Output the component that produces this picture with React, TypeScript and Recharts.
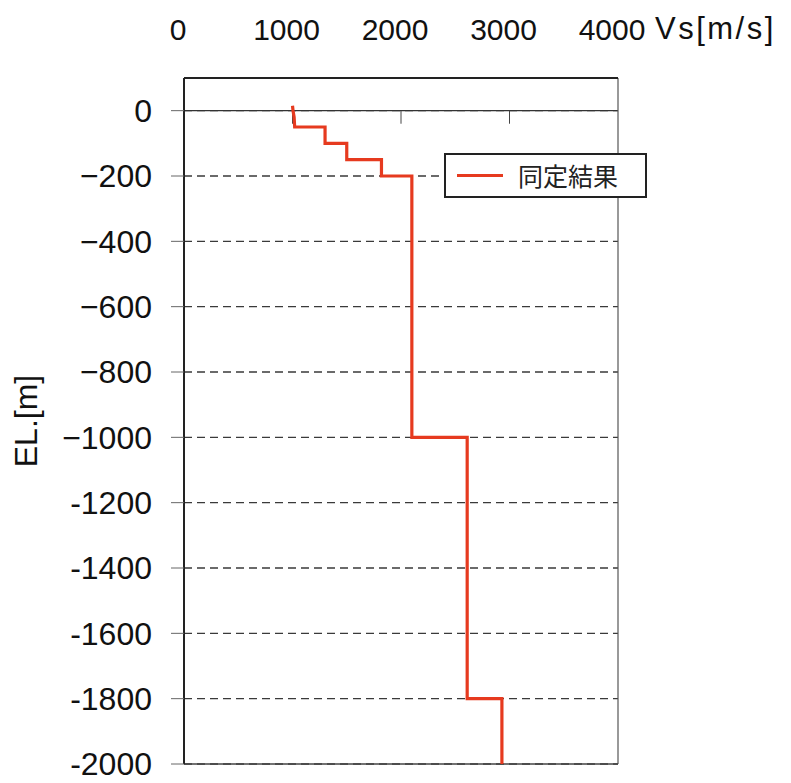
import React from 'react';
import {
  LineChart, Line, XAxis, YAxis, CartesianGrid, ReferenceLine, Legend,
} from 'recharts';

// identified Vs profile, listed as step corners (EL in m, Vs in m/s)
const elevations = [15, 0, -20, -50, -50, -100, -100, -150, -150, -200, -200, -1000, -1000, -1800, -1800, -2000];
const velocities = [1000, 1005, 1015, 1020, 1300, 1300, 1500, 1500, 1820, 1820, 2100, 2100, 2610, 2610, 2930, 2930];

const xTicks = [0, 1000, 2000, 3000, 4000];
const yTicks = [0, -200, -400, -600, -800, -1000, -1200, -1400, -1600, -1800, -2000];
const zeroLineTicks = [1000, 2000, 3000];

const seriesName = '同定結果';
const lineColor = '#e63a1f';
const font = "'Liberation Sans', Arial, sans-serif";

const data = elevations.map((el, i) => ({ el, vs: velocities[i] }));

// the labels down to -1000 use a real minus sign, below that a hyphen
const formatEL = (v: number) => {
  if (v === 0) return '0';
  return v >= -1000 ? `\u2212${Math.abs(v)}` : `-${Math.abs(v)}`;
};

const LegendBox = () => (
  <div
    style={{
      border: '2px solid #222',
      background: '#fff',
      width: 199,
      height: 41,
      display: 'flex',
      alignItems: 'center',
    }}
  >
    <span style={{ display: 'inline-block', width: 46, borderTop: `3px solid ${lineColor}`, marginLeft: 11, marginRight: 15 }} />
    <span style={{ fontFamily: "'Noto Sans CJK JP', sans-serif", fontSize: 25, color: '#222', lineHeight: 1 }}>
      {seriesName}
    </span>
  </div>
);

const ElLabel = (props: any) => {
  const { viewBox } = props;
  const cy = viewBox.y + viewBox.height / 2;
  return (
    <text
      x={26}
      y={cy}
      transform={`rotate(-90, 26, ${cy})`}
      textAnchor="middle"
      dominantBaseline="central"
      fontFamily={font}
      fontSize={32}
      fill="#111"
    >
      EL.[m]
    </text>
  );
};

const App: React.FC = () => {
  return (
    <div style={{ position: 'absolute', left: 0, top: 0, background: '#fff' }}>
      <LineChart width={791} height={783} data={data} margin={{ top: 48, right: 173, bottom: 19, left: 0 }}>
        <CartesianGrid vertical={false} stroke="#3a3a3a" strokeWidth={1.3} strokeDasharray="8 5" />
        <XAxis
          xAxisId={0}
          type="number"
          dataKey="vs"
          orientation="top"
          domain={[0, 4000]}
          ticks={xTicks}
          allowDataOverflow
          tickSize={0}
          tickMargin={38}
          tickLine={false}
          axisLine={{ stroke: '#222', strokeWidth: 2 }}
          tick={{ fontSize: 30, fill: '#111', fontFamily: font, dx: -6 }}
          label={{
            value: 'Vs[m/s]',
            position: 'right',
            offset: 37,
            dy: -35,
            style: { fontSize: 31, fill: '#111', fontFamily: font, letterSpacing: 2.5 },
          }}
        />
        <YAxis
          type="number"
          domain={[-2000, 100]}
          ticks={yTicks}
          allowDataOverflow
          width={184}
          tickSize={13}
          tickMargin={19}
          tickFormatter={formatEL}
          tickLine={{ stroke: '#666' }}
          axisLine={{ stroke: '#222', strokeWidth: 2 }}
          tick={{ fontSize: 32, fill: '#111', fontFamily: font }}
          label={<ElLabel />}
        />
        <ReferenceLine y={0} stroke="#333" strokeWidth={1.2} />
        {zeroLineTicks.map((v) => (
          <ReferenceLine key={v} segment={[{ x: v, y: 0 }, { x: v, y: -40 }]} stroke="#444" />
        ))}
        <ReferenceLine x={4000} stroke="#555" strokeWidth={1.2} />
        <ReferenceLine y={-2000} stroke="#444" strokeWidth={1.5} />
        <Line
          type="linear"
          dataKey="el"
          name={seriesName}
          stroke={lineColor}
          strokeWidth={3.2}
          dot={false}
          activeDot={false}
          isAnimationActive={false}
        />
        <Legend
          layout="horizontal"
          verticalAlign="middle"
          align="center"
          content={() => <LegendBox />}
          wrapperStyle={{ top: 153, left: 444, width: 'auto', height: 'auto' }}
        />
      </LineChart>
    </div>
  );
};

export default App;
